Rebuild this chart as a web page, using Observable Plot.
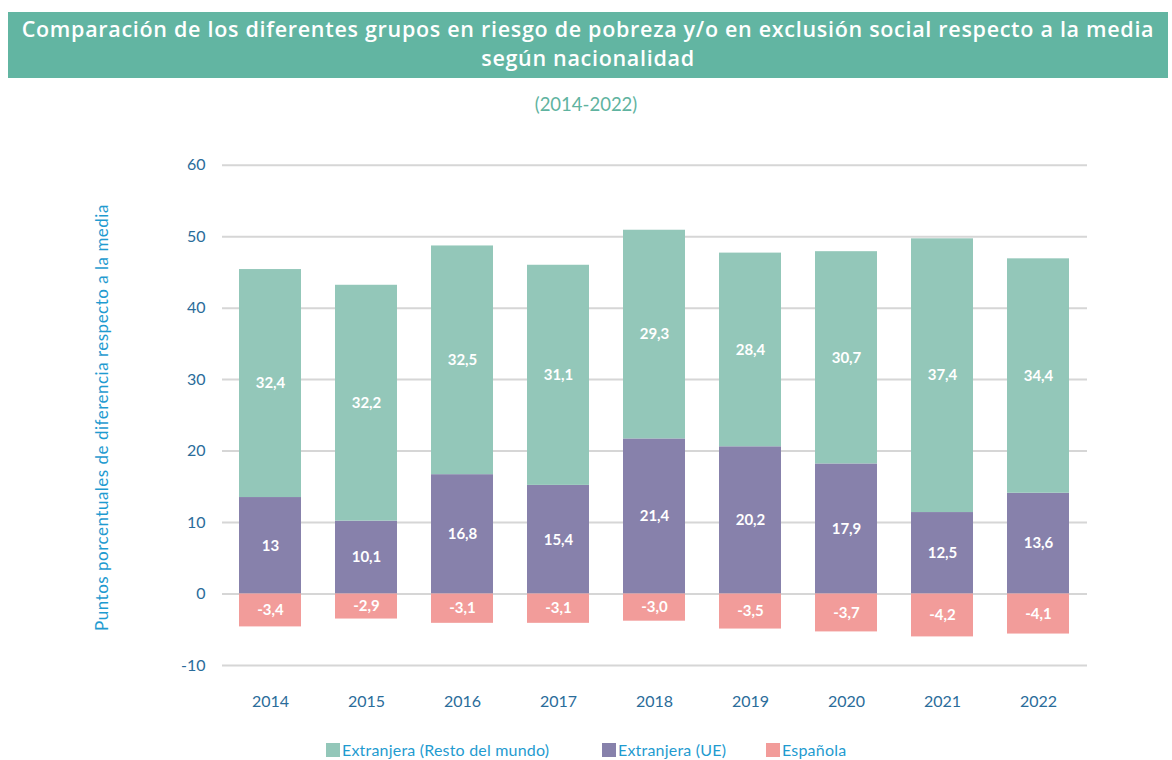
<!DOCTYPE html>
<html>
<head>
<meta charset="utf-8">
<script src="https://cdn.jsdelivr.net/npm/d3@7"></script>
<script src="https://cdn.jsdelivr.net/npm/@observablehq/plot@0.6"></script>
<style>
  body { margin:0; background:#fff; width:1172px; height:760px; position:relative; overflow:hidden; font-family: Lato, sans-serif; }
  #banner { position:absolute; left:8px; top:12px; width:1160px; height:66px; background:#62b5a2; color:#fff;
            font-family:"Open Sans", sans-serif; font-weight:600; font-size:21.5px; letter-spacing:0.7px; line-height:29px; text-align:center; padding-top:2px; box-sizing:border-box; white-space:nowrap; }
  #sub { position:absolute; left:0; width:1172px; top:93px; text-align:center; color:#5fb3a0; font-size:18.5px; font-family:Lato, sans-serif; }
  #chart { position:absolute; left:0; top:120px; }
  #legend { position:absolute; top:740px; left:0; width:1172px; height:20px; font-family:Lato, sans-serif; font-size:16px; letter-spacing:0.2px; color:#1f9bd0; }
  .item { position:absolute; top:0; display:flex; align-items:center; }
  .sw { width:14px; height:14px; margin-right:2px; }
</style>
</head>
<body>
<div id="banner">Comparación de los diferentes grupos en riesgo de pobreza y/o en exclusión social respecto a la media<br>según nacionalidad</div>
<div id="sub">(2014-2022)</div>
<div id="chart"></div>
<div id="legend"></div>
<script>
const years = ["2014","2015","2016","2017","2018","2019","2020","2021","2022"];
const seriesNames = ["Extranjera (Resto del mundo)", "Extranjera (UE)", "Española"];
const seriesColors = ["#93c7b9", "#8781ab", "#f29c9a"];
// segment extents as drawn in the reference
const barUE    = [13.5, 10.2, 16.7, 15.2, 21.7, 20.6, 18.2, 11.4, 14.1];
const barResto = [31.9, 33.0, 32.0, 30.8, 29.2, 27.1, 29.7, 38.3, 32.8];
const barEsp   = [-4.6, -3.5, -4.1, -4.1, -3.8, -4.9, -5.3, -6.0, -5.6];
// printed data labels
const labelUE    = ["13","10,1","16,8","15,4","21,4","20,2","17,9","12,5","13,6"];
const labelResto = ["32,4","32,2","32,5","31,1","29,3","28,4","30,7","37,4","34,4"];
const labelEsp   = ["-3,4","-2,9","-3,1","-3,1","-3,0","-3,5","-3,7","-4,2","-4,1"];
const yTicks = [-10, 0, 10, 20, 30, 40, 50, 60];
const yLabel = "Puntos porcentuales de diferencia respecto a la media";

const table = years.flatMap((year, i) => [
  {year, series: seriesNames[1], value: barUE[i], label: labelUE[i]},
  {year, series: seriesNames[0], value: barResto[i], label: labelResto[i]},
  {year, series: seriesNames[2], value: barEsp[i], label: labelEsp[i]}
]);

const svg = Plot.plot({
  width: 1172, height: 610,
  marginTop: 44.7, marginBottom: 65, marginLeft: 222, marginRight: 85,
  style: {fontFamily: "Lato, sans-serif", background: "transparent"},
  x: {domain: years, paddingInner: 0.354, paddingOuter: 0.177, label: null},
  y: {domain: [-10, 60], label: null},
  color: {domain: seriesNames, range: seriesColors},
  marks: [
    Plot.ruleY(yTicks, {stroke: "#d6d6d6", strokeWidth: 2}),
    Plot.barY(table, {x: "year", y: "value", z: "series", fill: "series"}),
    Plot.text(table, Plot.stackY({x: "year", y: "value", z: "series", text: "label",
      fill: "white", fontWeight: 700, fontSize: 15})),
    Plot.axisX({tickSize: 0, tickPadding: 30, fontSize: 16, color: "#2a6c9a", label: null}),
    Plot.axisY({ticks: yTicks, tickSize: 0, tickPadding: 17, fontSize: 16, color: "#2a6c9a",
      tickFormat: d => String(d), label: null})
  ]
});

d3.select(svg).append("text")
  .attr("transform", "translate(101,297.5) rotate(-90)")
  .attr("text-anchor", "middle")
  .attr("dominant-baseline", "central")
  .attr("fill", "#1f9bd0")
  .style("font-family", "Lato, sans-serif")
  .style("font-size", "17px")
  .style("letter-spacing", "0.5px")
  .text(yLabel);

document.getElementById("chart").appendChild(svg);

const legendX = [326, 602, 766];
const legend = document.getElementById("legend");
seriesNames.forEach((name, i) => {
  const it = document.createElement("div");
  it.className = "item";
  it.style.left = legendX[i] + "px";
  it.innerHTML = `<div class="sw" style="background:${seriesColors[i]}"></div><span>${name}</span>`;
  legend.appendChild(it);
});
</script>
</body>
</html>
